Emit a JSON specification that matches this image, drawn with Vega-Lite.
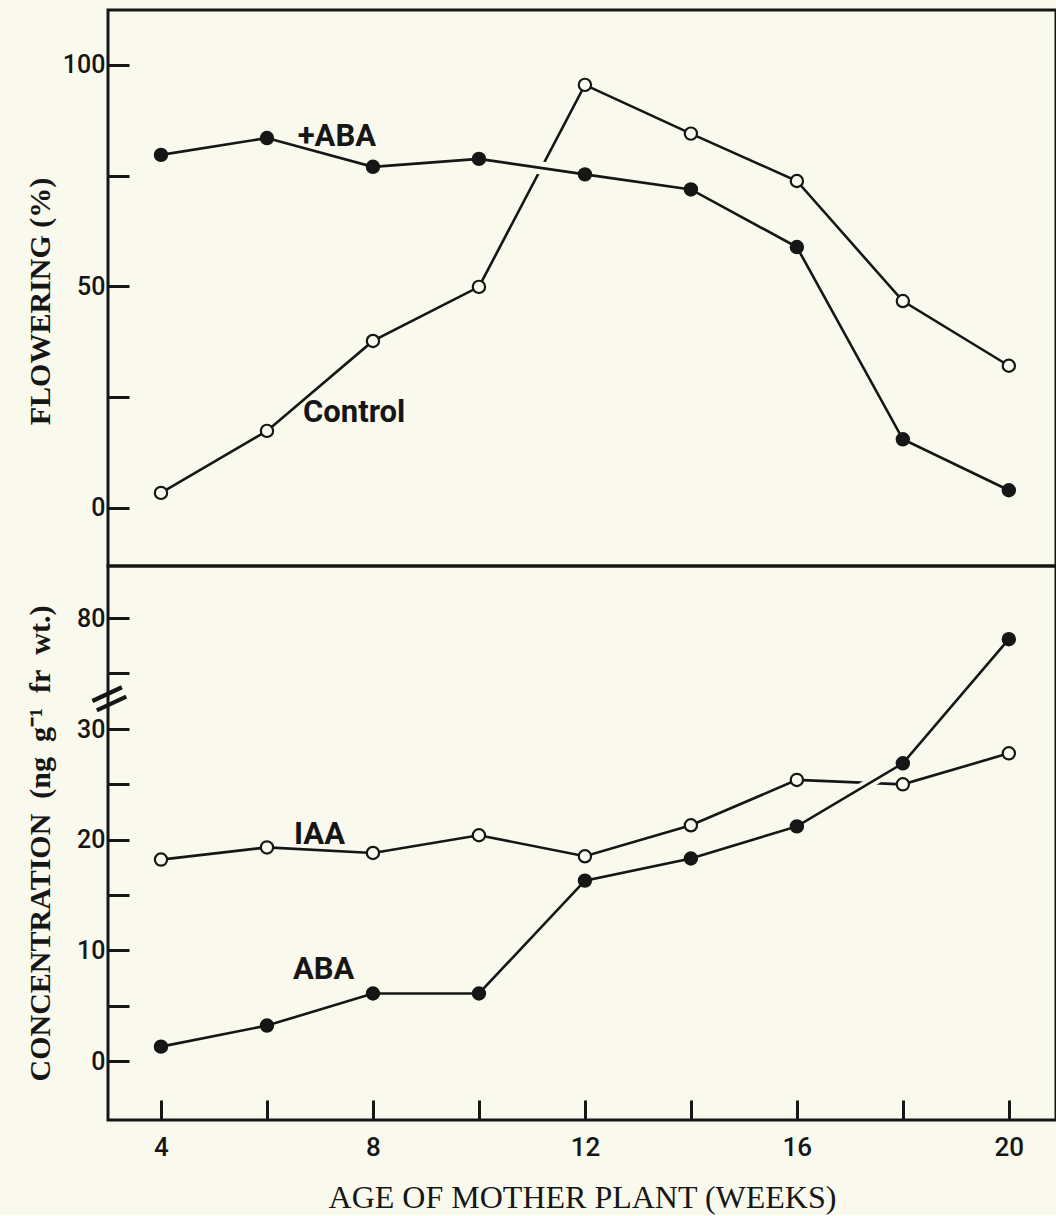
{
  "$schema": "https://vega.github.io/schema/vega-lite/v6.json",
  "background": "#f9f9ee",
  "padding": {"left": 23, "top": 8, "right": 0, "bottom": 0},
  "spacing": 0,
  "bounds": "flush",
  "config": {
    "view": {"stroke": "#161616", "strokeWidth": 3},
    "axis": {
      "grid": false,
      "domain": false,
      "tickColor": "#161616",
      "tickWidth": 3,
      "labelColor": "#161616",
      "labelFont": "Roboto",
      "labelFontWeight": 500,
      "labelOverlap": false,
      "titleColor": "#161616",
      "titleFont": "Liberation Serif",
      "titleFontWeight": "normal",
      "titleFontSize": 32
    }
  },
  "vconcat": [
    {
      "width": 948,
      "height": 556,
      "data": {"values": [
        {"week": 4, "flowering": 79.7, "series": "+ABA", "marker": "filled"},
        {"week": 6, "flowering": 83.5, "series": "+ABA", "marker": "filled"},
        {"week": 8, "flowering": 77.0, "series": "+ABA", "marker": "filled"},
        {"week": 10, "flowering": 78.8, "series": "+ABA", "marker": "filled"},
        {"week": 12, "flowering": 75.3, "series": "+ABA", "marker": "filled"},
        {"week": 14, "flowering": 71.9, "series": "+ABA", "marker": "filled"},
        {"week": 16, "flowering": 58.9, "series": "+ABA", "marker": "filled"},
        {"week": 18, "flowering": 15.5, "series": "+ABA", "marker": "filled"},
        {"week": 20, "flowering": 4.0, "series": "+ABA", "marker": "filled"},
        {"week": 4, "flowering": 3.4, "series": "Control", "marker": "open"},
        {"week": 6, "flowering": 17.4, "series": "Control", "marker": "open"},
        {"week": 8, "flowering": 37.7, "series": "Control", "marker": "open"},
        {"week": 10, "flowering": 49.9, "series": "Control", "marker": "open"},
        {"week": 12, "flowering": 95.5, "series": "Control", "marker": "open"},
        {"week": 14, "flowering": 84.5, "series": "Control", "marker": "open"},
        {"week": 16, "flowering": 73.8, "series": "Control", "marker": "open"},
        {"week": 18, "flowering": 46.7, "series": "Control", "marker": "open"},
        {"week": 20, "flowering": 32.1, "series": "Control", "marker": "open"}
      ]},
      "encoding": {
        "x": {"field": "week", "type": "quantitative", "scale": {"domain": [3, 20.89], "nice": false, "zero": false}, "axis": null},
        "y": {"field": "flowering", "type": "quantitative",
          "scale": {"domain": [-13.1, 112.4], "nice": false, "zero": false},
          "axis": {"title": "FLOWERING (%)", "values": [0, 25, 50, 75, 100],
            "labelExpr": "datum.value % 50 === 0 ? datum.label : ''",
            "tickSize": -21, "labelPadding": 24, "labelFontSize": 25,
            "titleFontWeight": "bold", "titleFontSize": 30, "titleY": 291,
            "minExtent": 40, "maxExtent": 40, "titlePadding": 13}}
      },
      "layer": [
        {"transform": [{"filter": "datum.series === 'Control'"}], "mark": {"type": "line", "stroke": "#161616", "strokeWidth": 2.6}},
        {"transform": [{"filter": "datum.series === '+ABA' && datum.week >= 10 && datum.week <= 12"}], "mark": {"type": "line", "stroke": "#f9f9ee", "strokeWidth": 13, "strokeCap": "butt"}},
        {"transform": [{"filter": "datum.series === '+ABA'"}], "mark": {"type": "line", "stroke": "#161616", "strokeWidth": 2.6}},
        {"mark": {"type": "point", "shape": "circle", "filled": true, "size": 150, "stroke": "#161616", "strokeWidth": 2.2, "opacity": 1},
          "encoding": {"fill": {"field": "marker", "type": "nominal", "scale": {"domain": ["filled", "open"], "range": ["#161616", "#f9f9ee"]}, "legend": null}}},
        {"data": {"values": [
            {"week": 6.58, "flowering": 81.7, "label": "+ABA"},
            {"week": 6.68, "flowering": 19.4, "label": "Control"}
          ]},
          "mark": {"type": "text", "align": "left", "baseline": "alphabetic", "font": "Roboto", "fontWeight": "bold", "fontSize": 31, "color": "#161616"},
          "encoding": {"text": {"field": "label"}}}
      ]
    },
    {
      "width": 948,
      "height": 554,
      "data": {"values": [
        {"week": 4, "conc": 18.2, "series": "IAA", "marker": "open"},
        {"week": 6, "conc": 19.3, "series": "IAA", "marker": "open"},
        {"week": 8, "conc": 18.8, "series": "IAA", "marker": "open"},
        {"week": 10, "conc": 20.4, "series": "IAA", "marker": "open"},
        {"week": 12, "conc": 18.5, "series": "IAA", "marker": "open"},
        {"week": 14, "conc": 21.3, "series": "IAA", "marker": "open"},
        {"week": 16, "conc": 25.4, "series": "IAA", "marker": "open"},
        {"week": 18, "conc": 25.0, "series": "IAA", "marker": "open"},
        {"week": 20, "conc": 27.8, "series": "IAA", "marker": "open"},
        {"week": 4, "conc": 1.3, "series": "ABA", "marker": "filled"},
        {"week": 6, "conc": 3.2, "series": "ABA", "marker": "filled"},
        {"week": 8, "conc": 6.1, "series": "ABA", "marker": "filled"},
        {"week": 10, "conc": 6.1, "series": "ABA", "marker": "filled"},
        {"week": 12, "conc": 16.3, "series": "ABA", "marker": "filled"},
        {"week": 14, "conc": 18.3, "series": "ABA", "marker": "filled"},
        {"week": 16, "conc": 21.2, "series": "ABA", "marker": "filled"},
        {"week": 18, "conc": 26.9, "series": "ABA", "marker": "filled"},
        {"week": 20, "conc": 78.1, "series": "ABA", "marker": "filled"}
      ]},
      "encoding": {
        "x": {"field": "week", "type": "quantitative", "scale": {"domain": [3, 20.89], "nice": false, "zero": false},
          "axis": {"title": "AGE OF MOTHER PLANT (WEEKS)", "values": [4, 6, 8, 10, 12, 14, 16, 18, 20],
            "labelExpr": "datum.value % 4 === 0 ? datum.label : ''",
            "tickSize": -20, "labelPadding": 34, "labelFontSize": 26,
            "minExtent": 45, "maxExtent": 45, "titlePadding": 17}},
        "y": {"field": "conc", "type": "quantitative",
          "scale": {"domain": [-5.33, 30, 75, 84.8], "range": [554, 163, 107, 0], "nice": false, "zero": false},
          "axis": {"title": "CONCENTRATION\u2002(ng\u2002g\u207b\u00b9\u2002fr\u2002wt.)", "values": [0, 5, 10, 15, 20, 25, 30, 75, 80],
            "labelExpr": "indexof([0, 10, 20, 30, 80], datum.value) >= 0 ? datum.label : ''",
            "tickSize": -21, "labelPadding": 24, "labelFontSize": 25,
            "titleFontWeight": "bold", "titleFontSize": 30,
            "minExtent": 40, "maxExtent": 40, "titlePadding": 13}}
      },
      "layer": [
        {"transform": [{"filter": "datum.series === 'IAA'"}], "mark": {"type": "line", "stroke": "#161616", "strokeWidth": 2.6}},
        {"transform": [{"filter": "datum.series === 'ABA' && datum.week >= 16 && datum.week <= 18"}], "mark": {"type": "line", "stroke": "#f9f9ee", "strokeWidth": 10, "strokeCap": "butt"}},
        {"transform": [{"filter": "datum.series === 'ABA'"}], "mark": {"type": "line", "stroke": "#161616", "strokeWidth": 2.6}},
        {"mark": {"type": "point", "shape": "circle", "filled": true, "size": 150, "stroke": "#161616", "strokeWidth": 2.2, "opacity": 1},
          "encoding": {"fill": {"field": "marker", "type": "nominal", "scale": {"domain": ["filled", "open"], "range": ["#161616", "#f9f9ee"]}, "legend": null}}},
        {"data": {"values": [
            {"week": 6.51, "conc": 19.6, "label": "IAA"},
            {"week": 6.49, "conc": 7.4, "label": "ABA"}
          ]},
          "mark": {"type": "text", "align": "left", "baseline": "alphabetic", "font": "Roboto", "fontWeight": "bold", "fontSize": 31, "color": "#161616"},
          "encoding": {"text": {"field": "label"}}},
        {"data": {"values": [{"week": 3.03, "conc": 54, "label": "="}]},
          "mark": {"type": "text", "align": "center", "baseline": "middle", "font": "DejaVu Sans", "fontSize": 52, "angle": 335, "color": "#161616"},
          "encoding": {"text": {"field": "label"}}}
      ]
    }
  ]
}
